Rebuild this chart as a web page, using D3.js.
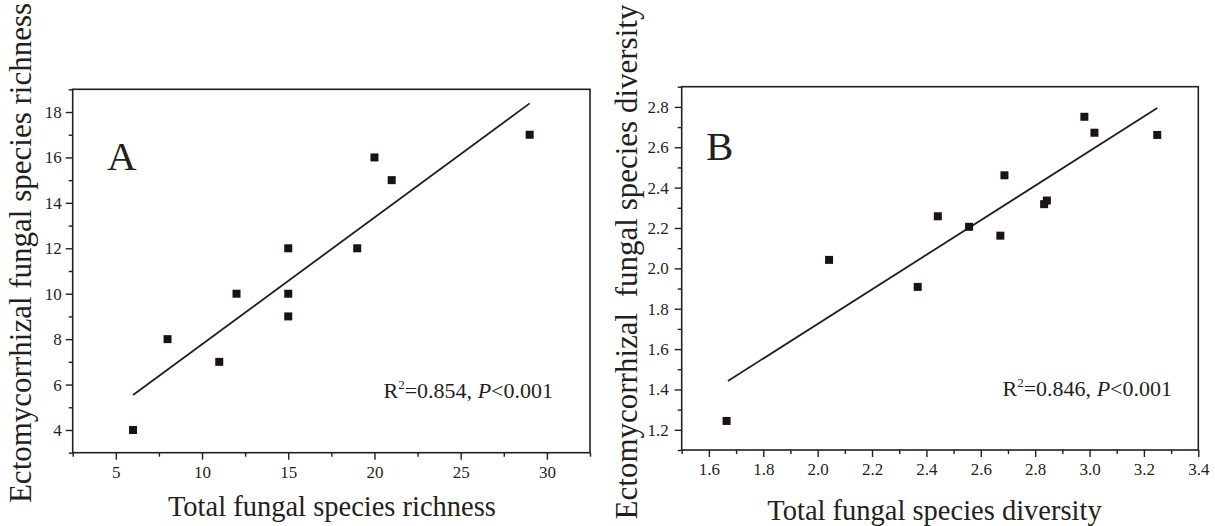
<!DOCTYPE html>
<html lang="en">
<head>
<meta charset="UTF-8">
<title>Ectomycorrhizal vs total fungal species</title>
<script src="https://cdnjs.cloudflare.com/ajax/libs/d3/7.8.5/d3.min.js"></script>
<style>
    body { margin: 0; background: #fff; }
    svg text { font-family: "Liberation Serif", "Times New Roman", serif; fill: #231f20; }
    .frame { stroke: #231f20; stroke-width: 1.6; fill: none; }
    .axis line { stroke: #231f20; stroke-width: 1.4; }
    .axis path { display: none; }
</style>
</head>
<body>
<div id="chart"></div>
<script>
// Panel A - species richness
const richTotal = [6, 8, 11, 12, 15, 15, 15, 19, 20, 21, 29];
const richEcto  = [4, 8, 7, 10, 12, 10, 9, 12, 16, 15, 17];
const richFit   = [[6, 5.54], [29, 18.38]];
const richXTicks = [5, 10, 15, 20, 25, 30];
const richXMinor = [2.5, 7.5, 12.5, 17.5, 22.5, 27.5, 32.5];
const richYTicks = [4, 6, 8, 10, 12, 14, 16, 18];
const richYMinor = [3, 5, 7, 9, 11, 13, 15, 17, 19];

// Panel B - species diversity
const divTotal = [1.665, 2.042, 2.368, 2.442, 2.557, 2.672, 2.687, 2.833, 2.843, 2.981, 3.018, 3.249];
const divEcto  = [1.244, 2.042, 1.908, 2.258, 2.206, 2.162, 2.461, 2.318, 2.336, 2.751, 2.672, 2.661];
const divFit   = [[1.670, 1.442], [3.249, 2.794]];
const divXTicks = [1.6, 1.8, 2.0, 2.2, 2.4, 2.6, 2.8, 3.0, 3.2, 3.4];
const divXMinor = [1.5, 1.7, 1.9, 2.1, 2.3, 2.5, 2.7, 2.9, 3.1, 3.3];
const divYTicks = [1.2, 1.4, 1.6, 1.8, 2.0, 2.2, 2.4, 2.6, 2.8];
const divYMinor = [1.1, 1.3, 1.5, 1.7, 1.9, 2.1, 2.3, 2.5, 2.7, 2.9];

const W = 1215, H = 526;
const ink = "#231f20";
const serif = "'Liberation Serif', 'Times New Roman', serif";

const svg = d3.select("#chart").append("svg")
    .attr("width", W)
    .attr("height", H)
    .style("background", "#fff");

function drawPanel(p) {
    const x = d3.scaleLinear().domain(p.xDomain).range([p.left, p.right]);
    const y = d3.scaleLinear().domain(p.yDomain).range([p.bottom, p.top]);
    const g = svg.append("g");

    // minor ticks first, then major ticks with labels
    g.append("g").attr("class", "axis")
        .attr("transform", `translate(0,${p.bottom})`)
        .call(d3.axisBottom(x).tickValues(p.xMinor).tickSize(4).tickFormat(""));
    g.append("g").attr("class", "axis")
        .attr("transform", `translate(${p.left},0)`)
        .call(d3.axisLeft(y).tickValues(p.yMinor).tickSize(4).tickFormat(""));

    const xa = g.append("g").attr("class", "axis")
        .attr("transform", `translate(0,${p.bottom})`)
        .call(d3.axisBottom(x).tickValues(p.xTicks).tickSize(7).tickPadding(6).tickFormat(p.fmt));
    const ya = g.append("g").attr("class", "axis")
        .attr("transform", `translate(${p.left},0)`)
        .call(d3.axisLeft(y).tickValues(p.yTicks).tickSize(7).tickPadding(p.yPad).tickFormat(p.fmt));
    [xa, ya].forEach(a => {
        a.attr("font-family", serif).attr("font-size", 17);
        a.selectAll("text").attr("fill", "#2b2627").style("font-family", serif).style("font-size", "17px");
    });

    g.append("rect").attr("class", "frame")
        .attr("x", p.left).attr("y", p.top)
        .attr("width", p.right - p.left).attr("height", p.bottom - p.top);

    // regression line
    g.append("path")
        .datum(p.fit)
        .attr("fill", "none")
        .attr("stroke", ink)
        .attr("stroke-width", 1.8)
        .attr("d", d3.line().x(d => x(d[0])).y(d => y(d[1])));

    // points
    g.selectAll("rect.pt")
        .data(p.xs.map((v, i) => [v, p.ys[i]]))
        .enter().append("rect")
        .attr("class", "pt")
        .attr("x", d => x(d[0]) - 4)
        .attr("y", d => y(d[1]) - 4)
        .attr("width", 8).attr("height", 8)
        .attr("fill", "#1a1311");

    // panel letter
    g.append("text")
        .attr("x", p.letterPos[0]).attr("y", p.letterPos[1])
        .attr("font-size", 41)
        .text(p.letter);

    // stats
    const st = g.append("text")
        .attr("x", p.statPos[0]).attr("y", p.statPos[1])
        .attr("text-anchor", "end")
        .attr("font-size", 22);
    st.append("tspan").text("R");
    st.append("tspan").attr("font-size", 13).attr("dy", -9).text("2");
    st.append("tspan").attr("dy", 9).text(p.stat);
    st.append("tspan").attr("font-style", "italic").text("P");
    st.append("tspan").text("<0.001");

    // axis titles
    g.append("text")
        .attr("x", (p.left + p.right) / 2 + p.xTitleShift)
        .attr("y", p.xTitleY)
        .attr("text-anchor", "middle")
        .attr("font-size", 28.5)
        .text(p.xTitle);
    g.append("text")
        .attr("transform", `translate(${p.yTitlePos[0]},${p.yTitlePos[1]}) rotate(-90)`)
        .attr("text-anchor", "middle")
        .attr("font-size", 31)
        .style("white-space", "pre")
        .text(p.yTitle);
}

drawPanel({
    xs: richTotal, ys: richEcto, fit: richFit,
    xDomain: [2.5, 32.5], yDomain: [3, 19],
    left: 72.7, right: 590, top: 89.3, bottom: 452.7,
    xTicks: richXTicks, xMinor: richXMinor, yTicks: richYTicks, yMinor: richYMinor,
    fmt: d3.format("d"), yPad: 4,
    letter: "A", letterPos: [107, 170],
    stat: "=0.854, ", statPos: [553, 398],
    xTitle: "Total fungal species richness", xTitleY: 516, xTitleShift: 0.6,
    yTitle: "Ectomycorrhizal fungal species richness", yTitlePos: [31, 253]
});

drawPanel({
    xs: divTotal, ys: divEcto, fit: divFit,
    xDomain: [1.5, 3.4], yDomain: [1.1, 2.9],
    left: 681.7, right: 1198.3, top: 86.7, bottom: 450,
    xTicks: divXTicks, xMinor: divXMinor, yTicks: divYTicks, yMinor: divYMinor,
    fmt: d3.format(".1f"), yPad: 6,
    letter: "B", letterPos: [706, 160],
    stat: "=0.846, ", statPos: [1172, 396],
    xTitle: "Total fungal species diversity", xTitleY: 520, xTitleShift: -5.5,
    yTitle: "Ectomycorrhizal  fungal species diversity", yTitlePos: [637, 262]
});
</script>
</body>
</html>
